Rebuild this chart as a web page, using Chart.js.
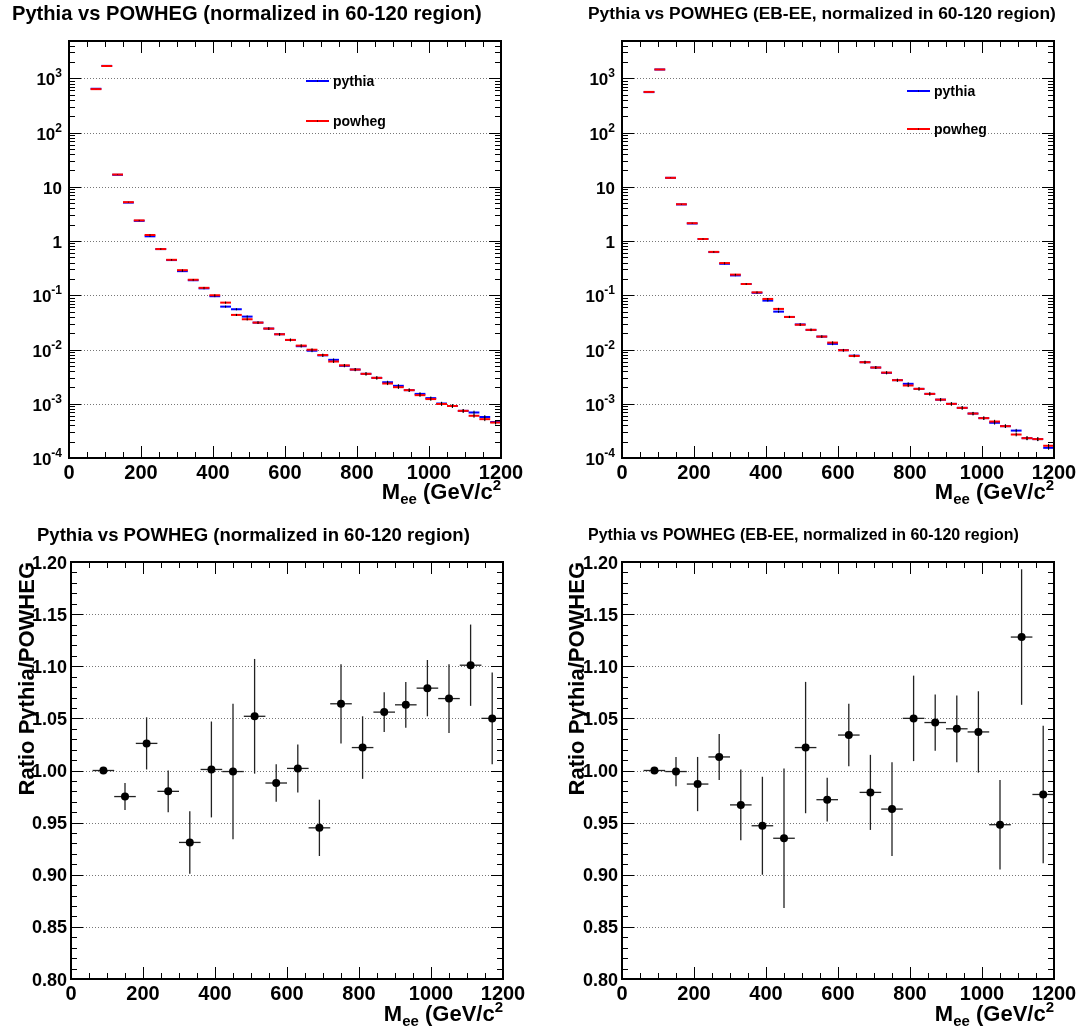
<!DOCTYPE html>
<html>
<head>
<meta charset="utf-8">
<script src="https://cdn.jsdelivr.net/npm/chart.js@4.4.0/dist/chart.umd.min.js"></script>
<style>
  body { margin: 0; background: #fff; }
  #wrap { position: relative; width: 1082px; height: 1030px; background: #fff; }
  #wrap canvas { position: absolute; left: 0; top: 0; }
</style>
</head>
<body>
<div id="wrap">
  <canvas id="tl" width="1082" height="1030"></canvas>
  <canvas id="tr" width="1082" height="1030"></canvas>
  <canvas id="bl" width="1082" height="1030"></canvas>
  <canvas id="br" width="1082" height="1030"></canvas>
</div>
<script>
// Mee bin centres (30 GeV bins, 60-1200) for the spectra
const massBins = [75, 105, 135, 165, 195, 225, 255, 285, 315, 345, 375, 405, 435, 465, 495, 525, 555, 585, 615,
                  645, 675, 705, 735, 765, 795, 825, 855, 885, 915, 945, 975, 1005, 1035, 1065, 1095, 1125, 1155, 1185];
const massHalfBin = 15;

// all electrons
const pythiaAll = [640, 1690, 16.6, 5.1, 2.35, 1.22, 0.71, 0.445, 0.278, 0.189, 0.134, 0.096, 0.0617, 0.0552, 0.0404,
                   0.0313, 0.0243, 0.0191, 0.0150, 0.0115, 0.0095, 0.0078, 0.00645, 0.0050, 0.00427, 0.00356, 0.0030,
                   0.00249, 0.00214, 0.00178, 0.00152, 0.00127, 0.00101, 0.00091, 0.00074, 0.00069, 0.00057, 0.00046];
const powhegAll = [630, 1680, 16.8, 5.2, 2.4, 1.29, 0.71, 0.45, 0.29, 0.193, 0.137, 0.100, 0.0731, 0.0434, 0.0361,
                   0.0313, 0.0243, 0.0191, 0.0150, 0.0118, 0.0099, 0.0079, 0.0060, 0.0051, 0.00427, 0.00356, 0.0030,
                   0.00236, 0.00202, 0.00178, 0.00144, 0.00122, 0.00099, 0.00091, 0.00074, 0.00060, 0.00052, 0.00045];

// EB-EE
const pythiaEBEE = [555, 1450, 14.6, 4.72, 2.10, 1.09, 0.625, 0.38, 0.232, 0.161, 0.111, 0.0796, 0.0499, 0.0398, 0.0290,
                    0.0230, 0.0173, 0.0127, 0.0097, 0.0077, 0.00583, 0.00465, 0.00371, 0.00272, 0.00233, 0.00188, 0.00152,
                    0.00119, 0.000995, 0.00084, 0.00066, 0.000543, 0.000446, 0.000386, 0.00032, 0.000232, 0.000223, 0.000154];
const powhegEBEE = [560, 1450, 14.6, 4.76, 2.13, 1.09, 0.63, 0.392, 0.24, 0.161, 0.113, 0.0855, 0.056, 0.0398, 0.0286,
                    0.0230, 0.0173, 0.0134, 0.0097, 0.0076, 0.00583, 0.00465, 0.00375, 0.00272, 0.00217, 0.00188, 0.00152,
                    0.00119, 0.000995, 0.00084, 0.00066, 0.000543, 0.00047, 0.000386, 0.000271, 0.000232, 0.000223, 0.000168];

// relative stat. error per spectrum bin
const histRelErr = [0.002, 0.002, 0.01, 0.015, 0.02, 0.025, 0.03, 0.03, 0.035, 0.035, 0.04, 0.04, 0.045, 0.045, 0.05,
                    0.05, 0.05, 0.055, 0.055, 0.055, 0.06, 0.06, 0.06, 0.06, 0.065, 0.065, 0.065, 0.065, 0.07, 0.07,
                    0.07, 0.07, 0.075, 0.075, 0.075, 0.08, 0.08, 0.08];

// ratio plots, 60 GeV bins
const ratioBins = [90, 150, 210, 270, 330, 390, 450, 510, 570, 630, 690, 750, 810, 870, 930, 990, 1050, 1110, 1170];
const ratioHalfBin = 30;
const ratioAll = [1.000, 0.975, 1.026, 0.980, 0.931, 1.001, 0.999, 1.052, 0.988, 1.002, 0.945, 1.064, 1.022, 1.056,
                  1.063, 1.079, 1.069, 1.101, 1.050];
const ratioAllErr = [0.001, 0.013, 0.025, 0.020, 0.030, 0.046, 0.065, 0.055, 0.018, 0.023, 0.027, 0.038, 0.030, 0.019,
                     0.022, 0.027, 0.033, 0.039, 0.044];
const ratioEBEE = [1.000, 0.999, 0.987, 1.013, 0.967, 0.947, 0.935, 1.022, 0.972, 1.034, 0.979, 0.963, 1.050, 1.046,
                   1.040, 1.037, 0.948, 1.128, 0.977];
const ratioEBEEErr = [0.001, 0.014, 0.026, 0.022, 0.034, 0.047, 0.067, 0.063, 0.021, 0.030, 0.036, 0.045, 0.041, 0.027,
                      0.032, 0.039, 0.043, 0.065, 0.066];

// axis ticks
const xMajorTicks = [0, 200, 400, 600, 800, 1000, 1200];
const xTickLabels = ['0', '200', '400', '600', '800', '1000', '1200'];
const logMajorTicks = [1e-4, 1e-3, 1e-2, 1e-1, 1, 10, 100, 1000];
const logTickLabels = [['10', '-4'], ['10', '-3'], ['10', '-2'], ['10', '-1'], ['1', ''], ['10', ''], ['10', '2'], ['10', '3']];
const ratioMajorTicks = [0.80, 0.85, 0.90, 0.95, 1.00, 1.05, 1.10, 1.15, 1.20];
const ratioTickLabels = ['0.80', '0.85', '0.90', '0.95', '1.00', '1.05', '1.10', '1.15', '1.20'];

const FONT = '"Liberation Sans", Arial, Helvetica, sans-serif';
const BLUE = '#0000ff';
const RED = '#ff0000';

function font(size) {
    return 'bold ' + size + 'px ' + FONT;
}

// draw a run of text pieces with different sizes / offsets (sub and superscripts)
function drawRich(ctx, parts, x, y, align) {
    let w = 0;
    parts.forEach(p => { ctx.font = font(p.size); w += ctx.measureText(p.text).width; });
    let cx = align === 'right' ? x - w : align === 'center' ? x - w / 2 : x;
    ctx.textAlign = 'left';
    ctx.textBaseline = 'alphabetic';
    parts.forEach(p => {
        ctx.font = font(p.size);
        ctx.fillText(p.text, cx, y + (p.dy || 0));
        cx += ctx.measureText(p.text).width;
    });
}

function minorTicks(kind) {
    const out = [];
    if (kind === 'log') {
        for (let e = -4; e <= 3; e++) {
            for (let m = 1; m <= 9; m++) out.push({ v: m * Math.pow(10, e), major: m === 1 });
        }
    } else {
        for (let i = 80; i <= 120; i++) out.push({ v: i / 100, major: i % 5 === 0 });
    }
    return out;
}

function rootPlugin(p) {
    return {
        id: 'rootFrame',
        beforeDatasetsDraw(chart) {
            const ctx = chart.ctx, a = chart.chartArea, xs = chart.scales.x, ys = chart.scales.y;
            // dotted horizontal grid
            ctx.save();
            ctx.strokeStyle = '#777';
            ctx.lineWidth = 1;
            ctx.setLineDash([1, 2]);
            (p.kind === 'log' ? logMajorTicks : ratioMajorTicks).forEach(v => {
                const y = Math.round(ys.getPixelForValue(v)) + 0.5;
                ctx.beginPath(); ctx.moveTo(a.left, y); ctx.lineTo(a.right, y); ctx.stroke();
            });
            ctx.restore();

            // bin bars + error bars
            ctx.save();
            ctx.beginPath();
            ctx.rect(a.left, a.top, a.right - a.left, a.bottom - a.top);
            ctx.clip();
            chart.data.datasets.forEach(ds => {
                ds.data.forEach((pt, i) => {
                    const x0 = xs.getPixelForValue(pt.x - ds.xHalf);
                    const x1 = xs.getPixelForValue(pt.x + ds.xHalf);
                    const xc = xs.getPixelForValue(pt.x);
                    const yc = ys.getPixelForValue(pt.y);
                    ctx.strokeStyle = ds.barColor;
                    ctx.lineWidth = ds.barWidth;
                    ctx.beginPath(); ctx.moveTo(x0, yc); ctx.lineTo(x1, yc); ctx.stroke();
                    const e = ds.yErr[i];
                    ctx.strokeStyle = ds.errColor;
                    ctx.lineWidth = ds.errWidth;
                    ctx.beginPath();
                    ctx.moveTo(xc, ys.getPixelForValue(pt.y + e));
                    ctx.lineTo(xc, ys.getPixelForValue(pt.y - e));
                    ctx.stroke();
                });
            });
            ctx.restore();
        },
        afterDraw(chart) {
            const ctx = chart.ctx, a = chart.chartArea, xs = chart.scales.x, ys = chart.scales.y;
            ctx.save();
            ctx.fillStyle = '#000';
            ctx.strokeStyle = '#000';

            // inward ticks on all four sides
            ctx.lineWidth = 1;
            const line = (x0, y0, x1, y1) => { ctx.beginPath(); ctx.moveTo(x0, y0); ctx.lineTo(x1, y1); ctx.stroke(); };
            for (let v = 0; v <= 1200; v += 50) {
                const x = Math.round(xs.getPixelForValue(v)) + 0.5;
                const len = v % 200 === 0 ? 12 : 6;
                line(x, a.bottom, x, a.bottom - len);
                line(x, a.top, x, a.top + len);
            }
            minorTicks(p.kind).forEach(t => {
                const y = ys.getPixelForValue(t.v);
                if (y < a.top - 0.5 || y > a.bottom + 0.5) return;
                const yy = Math.round(y) + 0.5;
                const len = t.major ? 12 : 6;
                line(a.left, yy, a.left + len, yy);
                line(a.right, yy, a.right - len, yy);
            });

            // frame
            ctx.lineWidth = 2;
            ctx.strokeRect(a.left, a.top, a.right - a.left, a.bottom - a.top);

            // x tick labels
            const xlBase = a.bottom + 21;
            xMajorTicks.forEach((v, i) => {
                drawRich(ctx, [{ text: xTickLabels[i], size: 20 }], xs.getPixelForValue(v), xlBase, 'center');
            });

            // y tick labels
            if (p.kind === 'log') {
                logMajorTicks.forEach((v, i) => {
                    const y = ys.getPixelForValue(v);
                    const [base, exp] = logTickLabels[i];
                    const parts = [{ text: base, size: 17 }];
                    if (exp) parts.push({ text: exp, size: 12, dy: -8 });
                    drawRich(ctx, parts, a.left - 7, y + 7, 'right');
                });
            } else {
                ratioMajorTicks.forEach((v, i) => {
                    drawRich(ctx, [{ text: ratioTickLabels[i], size: 18 }], a.left - 4, ys.getPixelForValue(v) + 6.5, 'right');
                });
                // y axis title
                ctx.save();
                ctx.translate(p.yTitleX, a.top);
                ctx.rotate(-Math.PI / 2);
                ctx.font = font(22);
                ctx.textAlign = 'right';
                ctx.textBaseline = 'alphabetic';
                ctx.fillText('Ratio Pythia/POWHEG', 0, 0);
                ctx.restore();
            }

            // x axis title
            drawRich(ctx, [
                { text: 'M', size: 22 },
                { text: 'ee', size: 15, dy: 5 },
                { text: ' (GeV/c', size: 22 },
                { text: '2', size: 15, dy: -9 }
            ], a.right, p.xTitleY, 'right');

            // pad title, scaled to its measured width
            ctx.font = font(20);
            const size = 20 * p.titleW / ctx.measureText(p.title).width;
            ctx.font = font(size);
            ctx.textAlign = 'left';
            ctx.textBaseline = 'middle';
            ctx.fillText(p.title, p.titleX, p.titleY);

            // legend
            if (p.legend) {
                p.legend.items.forEach(it => {
                    ctx.strokeStyle = it.color;
                    ctx.lineWidth = 2;
                    line(p.legend.x, it.y, p.legend.x + 23, it.y);
                    ctx.fillStyle = '#000';
                    ctx.fillRect(p.legend.x + 11, it.y - 0.5, 1, 1);
                    drawRich(ctx, [{ text: it.label, size: 14 }], p.legend.x + 27, it.y + 5, 'left');
                });
            }
            ctx.restore();
        }
    };
}

function histDataset(label, values, color) {
    return {
        label: label,
        data: massBins.map((m, i) => ({ x: m, y: values[i] })),
        xHalf: massHalfBin,
        yErr: values.map((v, i) => v * histRelErr[i]),
        barColor: color,
        barWidth: 2,
        errColor: '#000',
        errWidth: 1,
        pointRadius: 0,
        showLine: false
    };
}

function ratioDataset(values, errs) {
    return {
        label: 'ratio',
        data: ratioBins.map((m, i) => ({ x: m, y: values[i] })),
        xHalf: ratioHalfBin,
        yErr: errs,
        barColor: '#222',
        barWidth: 1.3,
        errColor: '#222',
        errWidth: 1.3,
        pointRadius: 4,
        pointBackgroundColor: '#000',
        pointBorderColor: '#000',
        pointBorderWidth: 0,
        showLine: false
    };
}

function makeChart(id, p, datasets) {
    const yScale = p.kind === 'log'
        ? { type: 'logarithmic', min: 1e-4, max: 4860, display: false }
        : { type: 'linear', min: 0.8, max: 1.2, display: false };
    return new Chart(document.getElementById(id), {
        type: 'scatter',
        data: { datasets: datasets },
        options: {
            responsive: false,
            animation: false,
            events: [],
            layout: { padding: p.pad },
            plugins: { legend: { display: false }, tooltip: { enabled: false }, title: { display: false } },
            scales: {
                x: { type: 'linear', min: 0, max: 1200, display: false },
                y: yScale
            }
        },
        plugins: [rootPlugin(p)]
    });
}

document.addEventListener('DOMContentLoaded', () => {
    makeChart('tl', {
        kind: 'log',
        pad: { left: 69, right: 581, top: 41, bottom: 572 },
        title: 'Pythia vs POWHEG (normalized in 60-120 region)', titleX: 12, titleY: 14, titleW: 470,
        xTitleY: 499,
        legend: { x: 306, items: [{ label: 'pythia', color: BLUE, y: 81 }, { label: 'powheg', color: RED, y: 121 }] }
    }, [histDataset('pythia', pythiaAll, BLUE), histDataset('powheg', powhegAll, RED)]);

    makeChart('tr', {
        kind: 'log',
        pad: { left: 622, right: 28, top: 41, bottom: 572 },
        title: 'Pythia vs POWHEG (EB-EE, normalized in 60-120 region)', titleX: 588, titleY: 14, titleW: 468,
        xTitleY: 499,
        legend: { x: 907, items: [{ label: 'pythia', color: BLUE, y: 91 }, { label: 'powheg', color: RED, y: 129 }] }
    }, [histDataset('pythia', pythiaEBEE, BLUE), histDataset('powheg', powhegEBEE, RED)]);

    makeChart('bl', {
        kind: 'ratio',
        pad: { left: 71, right: 579, top: 562, bottom: 51 },
        title: 'Pythia vs POWHEG (normalized in 60-120 region)', titleX: 37, titleY: 536, titleW: 433,
        xTitleY: 1021, yTitleX: 34
    }, [ratioDataset(ratioAll, ratioAllErr)]);

    makeChart('br', {
        kind: 'ratio',
        pad: { left: 622, right: 28, top: 562, bottom: 51 },
        title: 'Pythia vs POWHEG (EB-EE, normalized in 60-120 region)', titleX: 588, titleY: 536, titleW: 431,
        xTitleY: 1021, yTitleX: 584
    }, [ratioDataset(ratioEBEE, ratioEBEEErr)]);
});
</script>
</body>
</html>
